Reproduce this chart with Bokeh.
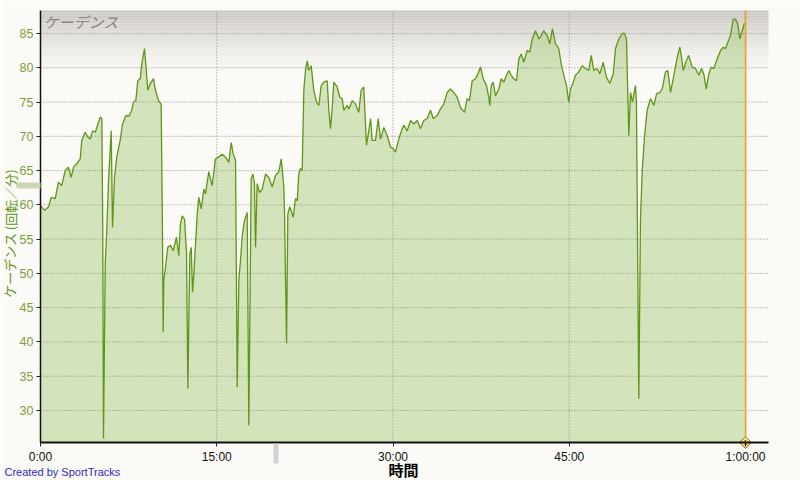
from bokeh.plotting import figure
from bokeh.models import Range1d, FixedTicker, BoxAnnotation, Label, LinearAxis
from bokeh.embed import file_html
from bokeh.resources import INLINE

# ---------------- data (elapsed minutes, cadence rpm) ----------------
minutes = [
    0.00, 0.34, 0.68, 0.91, 1.25, 1.53, 1.81, 2.10, 2.38, 2.61,
    2.81, 3.09, 3.38, 3.51, 3.80, 4.03, 4.23, 4.43, 4.66, 5.08,
    5.22, 5.30, 5.36, 5.51, 5.64, 5.79, 6.02, 6.13, 6.30, 6.49,
    6.78, 6.98, 7.26, 7.55, 7.77, 7.91, 8.11, 8.28, 8.49, 8.62,
    8.85, 8.96, 9.13, 9.34, 9.62, 9.76, 10.04, 10.27, 10.38, 10.44,
    10.49, 10.64, 10.83, 11.06, 11.29, 11.57, 11.77, 11.91, 12.06, 12.26,
    12.43, 12.54, 12.71, 12.83, 12.94, 13.05, 13.34, 13.47, 13.68, 13.90,
    14.04, 14.32, 14.61, 14.89, 15.17, 15.46, 15.74, 16.03, 16.23, 16.40,
    16.60, 16.74, 16.88, 17.02, 17.17, 17.36, 17.59, 17.73, 17.93, 18.07,
    18.21, 18.30, 18.44, 18.64, 18.87, 19.15, 19.43, 19.72, 20.00, 20.28,
    20.49, 20.71, 20.77, 20.94, 21.05, 21.22, 21.51, 21.70, 21.85, 21.98,
    22.13, 22.27, 22.41, 22.55, 22.70, 22.83, 23.04, 23.26, 23.49, 23.69,
    23.89, 24.11, 24.40, 24.54, 24.68, 24.83, 24.96, 25.25, 25.47, 25.68,
    25.81, 26.10, 26.24, 26.53, 26.81, 27.09, 27.29, 27.51, 27.66, 27.74,
    27.94, 28.09, 28.23, 28.51, 28.74, 28.94, 29.22, 29.51, 29.79, 30.02,
    30.21, 30.49, 30.78, 30.92, 31.21, 31.49, 31.77, 32.06, 32.34, 32.62,
    32.91, 33.19, 33.42, 33.76, 34.04, 34.32, 34.61, 34.89, 35.17, 35.46,
    35.74, 36.09, 36.31, 36.51, 36.74, 37.02, 37.22, 37.45, 37.68, 37.96,
    38.15, 38.24, 38.36, 38.53, 38.72, 39.00, 39.21, 39.43, 39.66, 39.86,
    40.06, 40.28, 40.51, 40.71, 40.91, 41.13, 41.42, 41.64, 41.85, 42.13,
    42.41, 42.61, 42.83, 43.12, 43.34, 43.57, 43.83, 44.11, 44.31, 44.54,
    44.77, 44.96, 45.11, 45.34, 45.53, 45.81, 46.10, 46.38, 46.66, 46.87,
    47.09, 47.38, 47.60, 47.89, 48.17, 48.45, 48.74, 48.94, 49.22, 49.51,
    49.70, 49.87, 50.07, 50.21, 50.38, 50.64, 50.72, 50.92, 51.06, 51.21,
    51.40, 51.63, 51.91, 52.20, 52.43, 52.71, 52.91, 53.19, 53.39, 53.62,
    53.90, 54.19, 54.41, 54.53, 54.70, 54.98, 55.17, 55.46, 55.74, 56.03,
    56.26, 56.45, 56.66, 56.88, 57.08, 57.30, 57.59, 57.87, 58.10, 58.30,
    58.49, 58.72, 58.95, 59.15, 59.34, 59.51, 59.72, 59.91,
]
cadence = [
    59.9, 59.2, 59.7, 61.1, 60.9, 63.3, 62.8, 65.0, 65.5, 64.0,
    65.5, 66.0, 66.7, 69.4, 70.6, 69.9, 69.6, 70.8, 70.6, 72.8,
    72.6, 56.3, 25.9, 51.4, 56.3, 63.6, 70.8, 56.7, 64.0, 67.0,
    69.4, 71.8, 73.0, 73.0, 73.8, 75.0, 75.2, 78.1, 78.4, 80.6,
    82.8, 80.6, 76.7, 77.7, 78.4, 76.9, 75.2, 74.7, 56.3, 41.4,
    49.0, 50.9, 53.8, 54.1, 53.3, 55.3, 52.6, 57.2, 58.4, 57.9,
    52.9, 33.2, 52.9, 53.8, 47.3, 49.9, 58.7, 61.1, 59.4, 62.3,
    61.6, 64.8, 62.8, 66.7, 67.0, 67.4, 67.0, 66.2, 69.1, 67.4,
    66.5, 33.4, 49.0, 51.9, 55.5, 57.7, 58.9, 27.8, 63.8, 64.5,
    63.1, 53.8, 63.1, 61.8, 62.3, 64.5, 64.0, 62.6, 64.3, 64.8,
    66.7, 62.6, 58.7, 39.8, 58.7, 59.7, 58.2, 60.9, 60.6, 64.5,
    65.3, 65.0, 76.7, 79.6, 81.0, 79.6, 80.3, 76.7, 75.0, 74.5,
    77.4, 77.9, 78.1, 73.8, 71.1, 74.2, 77.9, 77.2, 75.7, 75.5,
    73.8, 74.5, 74.0, 75.2, 74.7, 73.5, 76.7, 77.2, 71.8, 68.7,
    70.8, 72.6, 69.4, 69.4, 72.6, 69.6, 71.3, 70.1, 68.4, 68.2,
    67.7, 69.6, 71.1, 71.6, 70.8, 72.3, 71.8, 72.3, 71.1, 72.3,
    72.6, 73.8, 72.6, 73.0, 74.0, 74.7, 76.4, 76.9, 76.4, 75.7,
    74.2, 73.5, 75.5, 75.2, 78.1, 78.4, 79.1, 80.1, 78.4, 77.4,
    75.7, 74.5, 77.4, 77.9, 75.9, 76.9, 78.4, 77.9, 78.9, 79.6,
    78.9, 78.4, 78.1, 81.3, 82.0, 80.8, 82.5, 82.3, 84.2, 85.4,
    84.2, 84.7, 85.4, 84.7, 83.5, 85.7, 83.5, 82.8, 80.6, 78.9,
    77.4, 75.0, 76.9, 77.9, 78.9, 79.4, 80.3, 79.9, 79.6, 81.8,
    79.6, 79.9, 79.1, 80.8, 78.6, 77.7, 79.1, 82.8, 84.2, 85.0,
    85.0, 84.2, 70.1, 76.4, 75.0, 77.4, 74.7, 31.7, 57.7, 65.0,
    69.9, 73.8, 75.5, 74.5, 76.2, 76.4, 76.9, 79.4, 79.6, 76.4,
    78.9, 81.5, 83.0, 81.8, 79.6, 81.1, 81.8, 80.1, 79.9, 78.9,
    79.9, 79.1, 76.9, 79.1, 80.1, 79.9, 81.3, 82.5, 83.0, 82.8,
    83.7, 84.7, 87.1, 87.1, 86.4, 84.2, 85.4, 86.5,
]
assert len(minutes) == len(cadence)

x_ticks = [0, 15, 30, 45, 60]
x_tick_labels = ["0:00", "15:00", "30:00", "45:00", "1:00:00"]
x_grid = [15, 30, 45]
y_ticks = [30, 35, 40, 45, 50, 55, 60, 65, 70, 75, 80, 85]
marker_time = [60]
marker_text = ["1"]

title_text = "ケーデンス"
y_label = "ケーデンス (回転／分)"
x_label = "時間"
credit = "Created by SportTracks"

# ---------------- layout (pixels) ----------------
W, H = 800, 480
PX_LEFT, PX_RIGHT = 40, 768      # plot area edges
PX_TOP, PX_BOTTOM = 10, 442
PX_PER_MIN = 11.75
PX_PER_RPM = 6.8545
Y_AT_TOP_PX = 85 + 33 / PX_PER_RPM   # value at pixel row 0 (85 sits on row 33)

x_start = -PX_LEFT / PX_PER_MIN
x_end = (W - PX_LEFT) / PX_PER_MIN
y_end = Y_AT_TOP_PX
y_start = Y_AT_TOP_PX - H / PX_PER_RPM
AREA_XMAX = (PX_RIGHT - PX_LEFT) / PX_PER_MIN
AREA_YMAX = Y_AT_TOP_PX - PX_TOP / PX_PER_RPM
AREA_YMIN = Y_AT_TOP_PX - PX_BOTTOM / PX_PER_RPM

BG = (251, 250, 246)
BG_HEX = "#%02x%02x%02x" % BG
JP = "Noto Sans CJK JP"
NUM = "Liberation Sans"

p = figure(width=W, height=H, output_backend="svg", toolbar_location=None,
           x_range=Range1d(x_start, x_end), y_range=Range1d(y_start, y_end),
           x_axis_location=None, y_axis_location=None,
           background_fill_color=BG_HEX, border_fill_color=BG_HEX,
           min_border_left=0, min_border_right=0,
           min_border_top=0, min_border_bottom=0)
p.outline_line_color = None
p.grid.visible = False

# top grey gradient of the plot background
top_c = (201, 197, 192)
g_lo = 78.8
n = 40
for i in range(n):
    hi = AREA_YMAX - (AREA_YMAX - g_lo) * i / n
    lo = AREA_YMAX - (AREA_YMAX - g_lo) * (i + 1) / n
    w = (1 - (i + 0.5) / n) ** 1.35
    c = tuple(int(round(BG[k] + (top_c[k] - BG[k]) * w)) for k in range(3))
    p.add_layout(BoxAnnotation(left=0, right=AREA_XMAX, bottom=lo, top=hi,
                               fill_color="#%02x%02x%02x" % c, fill_alpha=1.0,
                               line_color=None, level="image"))

# filled area
p.varea(x=minutes, y1=AREA_YMIN, y2=cadence, fill_color="#9cc46a", fill_alpha=0.42)

# dotted grid lines
p.segment(x0=[0] * len(y_ticks), x1=[AREA_XMAX] * len(y_ticks), y0=y_ticks, y1=y_ticks,
          line_color="#8a8a8a", line_dash="1 2", line_width=1)
p.segment(x0=x_grid, x1=x_grid, y0=[AREA_YMIN] * len(x_grid), y1=[AREA_YMAX] * len(x_grid),
          line_color="#8a8a8a", line_dash="1 2", line_width=1)

# cadence line
p.line(x=minutes, y=cadence, line_color="#5f9618", line_width=1.3)

# lap marker line
p.segment(x0=marker_time, x1=marker_time, y0=[AREA_YMIN] * len(marker_time),
          y1=[AREA_YMAX] * len(marker_time), line_color="#e6a12e", line_width=1.8)

# axes drawn at fixed positions
xaxis = LinearAxis(fixed_location=AREA_YMIN, bounds=(0, AREA_XMAX),
                   ticker=FixedTicker(ticks=x_ticks))
xaxis.major_label_overrides = {t: l for t, l in zip(x_ticks, x_tick_labels)}
yaxis = LinearAxis(fixed_location=0, bounds=(AREA_YMIN, AREA_YMAX),
                   ticker=FixedTicker(ticks=y_ticks))
for ax in (xaxis, yaxis):
    ax.minor_tick_line_color = None
    ax.major_tick_in = 0
    ax.major_tick_out = 4
    ax.major_tick_line_color = "#222222"
    ax.axis_line_color = "#111111"
    ax.major_label_text_font = NUM
    ax.major_label_standoff = 3
xaxis.axis_line_width = 2
yaxis.axis_line_width = 1.5
xaxis.major_label_text_color = "#111111"
xaxis.major_label_text_font_size = "12px"
yaxis.major_label_text_color = "#7a9e3c"
yaxis.major_label_text_font_size = "12.5px"
p.add_layout(xaxis, "below")
p.add_layout(yaxis, "left")

# axis titles as labels at the reference positions
p.add_layout(Label(x=403, y=H - 469, x_units="screen", y_units="screen", text=x_label,
                   text_font=JP, text_font_size="15px", text_font_style="bold",
                   text_color="#000000", text_baseline="alphabetic", text_align="center"))
p.add_layout(Label(x=9.5, y=H - 233, x_units="screen", y_units="screen", text=y_label,
                   angle=1.5707963, text_font=JP, text_font_size="13px",
                   text_color="#5e961c", text_baseline="middle", text_align="center"))

# diamond on top of the axis
p.scatter(x=marker_time, y=[AREA_YMIN] * len(marker_time), marker="square", angle=0.785398,
          size=8.5, fill_color="#f3dc86", line_color="#9c7418", line_width=1)
p.text(x=marker_time, y=[AREA_YMIN] * len(marker_time), text=marker_text,
       text_font_size="7px", text_color="#333333", text_align="center",
       text_baseline="middle")

# chart title inside the plot
p.add_layout(Label(x=43, y=H - PX_TOP, x_units="screen", y_units="screen", text=title_text,
                   text_font=JP, text_font_size="15px", text_font_style="italic",
                   text_color="#868686", text_baseline="top", text_align="left"))

# credit
p.add_layout(Label(x=4, y=H - 471, x_units="screen", y_units="screen", text=credit,
                   text_font=NUM, text_font_size="11px", text_color="#2b2bc8",
                   text_baseline="alphabetic", text_align="left"))

# splitter handles
p.add_layout(BoxAnnotation(left=16, right=PX_LEFT, bottom=H - 188, top=H - 182,
                           left_units="screen", right_units="screen",
                           bottom_units="screen", top_units="screen",
                           fill_color="#c9d8b3", fill_alpha=1.0, line_color=None))
p.add_layout(BoxAnnotation(left=273, right=278, bottom=H - 463, top=H - 443,
                           left_units="screen", right_units="screen",
                           bottom_units="screen", top_units="screen",
                           fill_color="#d2d2d2", fill_alpha=1.0, line_color=None))

open("out.html", "w").write(file_html(p, INLINE))
